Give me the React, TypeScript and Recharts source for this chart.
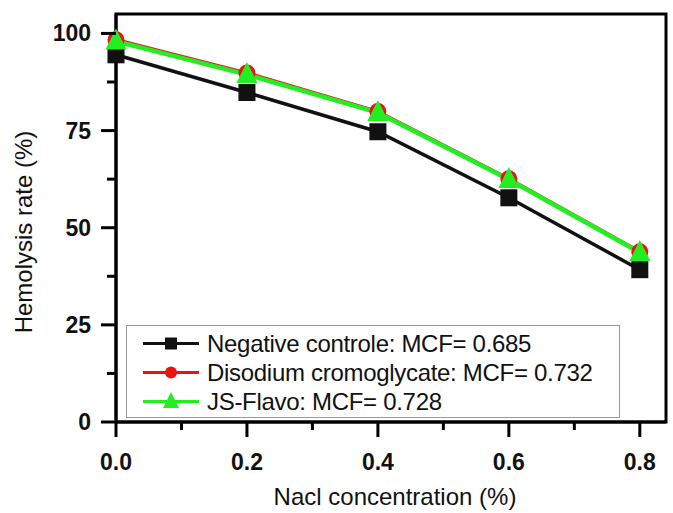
import { useEffect } from "react";
import {
  LineChart,
  Line,
  XAxis,
  YAxis,
  Legend,
  ReferenceArea,
} from "recharts";

const concentrations = [0, 0.2, 0.4, 0.6, 0.8];
const negativeControl = [94.5, 84.8, 74.7, 57.7, 39.2];
const cromoglycate = [98.4, 89.8, 79.9, 62.6, 43.8];
const jsFlavo = [98.0, 89.4, 79.6, 62.4, 43.6];

const xTicks = [0, 0.1, 0.2, 0.3, 0.4, 0.5, 0.6, 0.7, 0.8];
const yTicks = [0, 12.5, 25, 37.5, 50, 62.5, 75, 87.5, 100];

const seriesInfo = [
  { key: "neg", label: "Negative controle: MCF= 0.685", color: "#111111", shape: "square" },
  { key: "dsc", label: "Disodium cromoglycate: MCF= 0.732", color: "#ee1111", shape: "circle" },
  { key: "jsf", label: "JS-Flavo: MCF= 0.728", color: "#22ee22", shape: "triangle" },
];

const data = concentrations.map((c, i) => ({
  x: c,
  neg: negativeControl[i],
  dsc: cromoglycate[i],
  jsf: jsFlavo[i],
}));

const FONT = "'Liberation Sans', Arial, sans-serif";

function Marker({ shape, cx, cy, color, size }: any) {
  if (shape === "square") {
    return <rect x={cx - size / 2} y={cy - size / 2} width={size} height={size} fill={color} />;
  }
  if (shape === "circle") {
    return <circle cx={cx} cy={cy} r={size / 2} fill={color} />;
  }
  const h = size + 4;
  return (
    <polygon
      points={`${cx},${cy - h * 0.6} ${cx - h / 2},${cy + h * 0.4} ${cx + h / 2},${cy + h * 0.4}`}
      fill={color}
    />
  );
}

function makeDot(shape: string, color: string) {
  return (props: any) => (
    <Marker key={`${shape}-${props.index}`} shape={shape} cx={props.cx} cy={props.cy} color={color} size={17} />
  );
}

function YTick(props: any) {
  const { x, y, payload } = props;
  const major = payload.value % 25 === 0;
  return (
    <g>
      <line x1={x} x2={x - (major ? 15 : 9)} y1={y} y2={y} stroke="#000" strokeWidth={3} />
      {major && (
        <text
          x={x - 25}
          y={y + 8}
          textAnchor="end"
          fontFamily={FONT}
          fontWeight="bold"
          fontSize={23}
          fill="#111"
        >
          {payload.value}
        </text>
      )}
    </g>
  );
}

function XTick(props: any) {
  const { x, y, payload } = props;
  const major = Math.round(payload.value * 10) % 2 === 0;
  return (
    <g>
      <line x1={x} x2={x} y1={y} y2={y + (major ? 15 : 8)} stroke="#000" strokeWidth={3} />
      {major && (
        <text
          x={x}
          y={y + 48}
          textAnchor="middle"
          fontFamily={FONT}
          fontWeight="bold"
          fontSize={23}
          fill="#111"
        >
          {payload.value.toFixed(1)}
        </text>
      )}
    </g>
  );
}

function LegendBox() {
  return (
    <div
      style={{
        width: 494,
        height: 93,
        border: "1px solid #999",
        background: "#fff",
        boxSizing: "border-box",
        paddingTop: 3,
        fontFamily: FONT,
        fontSize: 24,
        color: "#111",
      }}
    >
      {seriesInfo.map((s) => (
        <div key={s.key} style={{ display: "flex", alignItems: "center", height: 29 }}>
          <svg width={80} height={29} style={{ flex: "none" }}>
            <line x1={16} x2={72} y1={14.5} y2={14.5} stroke={s.color} strokeWidth={3} />
            <Marker shape={s.shape} cx={44} cy={14.5} color={s.color} size={12} />
          </svg>
          <span style={{ whiteSpace: "nowrap", letterSpacing: -0.3 }}>{s.label}</span>
        </div>
      ))}
    </div>
  );
}

export default function App() {
  useEffect(() => {
    document.body.style.margin = "0";
  }, []);

  return (
    <div style={{ width: 673, height: 513, background: "#fff" }}>
      <LineChart
        width={673}
        height={513}
        data={data}
        margin={{ top: 14, right: 7, left: 0, bottom: 0 }}
      >
        <XAxis
          dataKey="x"
          type="number"
          domain={[0, 0.84]}
          ticks={xTicks}
          interval={0}
          height={91}
          tickSize={0}
          tickMargin={0}
          tickLine={false}
          tick={<XTick />}
          axisLine={{ stroke: "#000", strokeWidth: 3 }}
          label={(p: any) => {
            const vb = p.viewBox;
            return (
              <text
                x={vb.x + vb.width / 2 + 4}
                y={vb.y + 83}
                textAnchor="middle"
                fontFamily={FONT}
                fontSize={24}
                fill="#111"
              >
                Nacl concentration (%)
              </text>
            );
          }}
        />
        <YAxis
          type="number"
          domain={[0, 105]}
          ticks={yTicks}
          interval={0}
          width={116}
          tickSize={0}
          tickMargin={0}
          tickLine={false}
          tick={<YTick />}
          axisLine={{ stroke: "#000", strokeWidth: 3 }}
          label={(p: any) => {
            const vb = p.viewBox;
            const cx = vb.x + 23;
            const cy = vb.y + vb.height / 2 + 14;
            return (
              <text
                x={cx}
                y={cy}
                transform={`rotate(-90, ${cx}, ${cy})`}
                textAnchor="middle"
                dominantBaseline="central"
                fontFamily={FONT}
                fontSize={24}
                fill="#111"
              >
                Hemolysis rate (%)
              </text>
            );
          }}
        />
        <ReferenceArea
          x1={0}
          x2={0.84}
          y1={0}
          y2={105}
          fill="none"
          stroke="#000"
          strokeWidth={3}
          ifOverflow="visible"
        />
        <Legend
          layout="vertical"
          align="center"
          verticalAlign="middle"
          wrapperStyle={{ left: 126, top: 325, width: 494 }}
          content={() => <LegendBox />}
        />
        {seriesInfo.map((s) => (
          <Line
            key={s.key}
            dataKey={s.key}
            type="linear"
            stroke={s.color}
            strokeWidth={s.key === "jsf" ? 4.5 : 3.5}
            dot={makeDot(s.shape, s.color)}
            activeDot={false}
            isAnimationActive={false}
          />
        ))}
      </LineChart>
    </div>
  );
}
